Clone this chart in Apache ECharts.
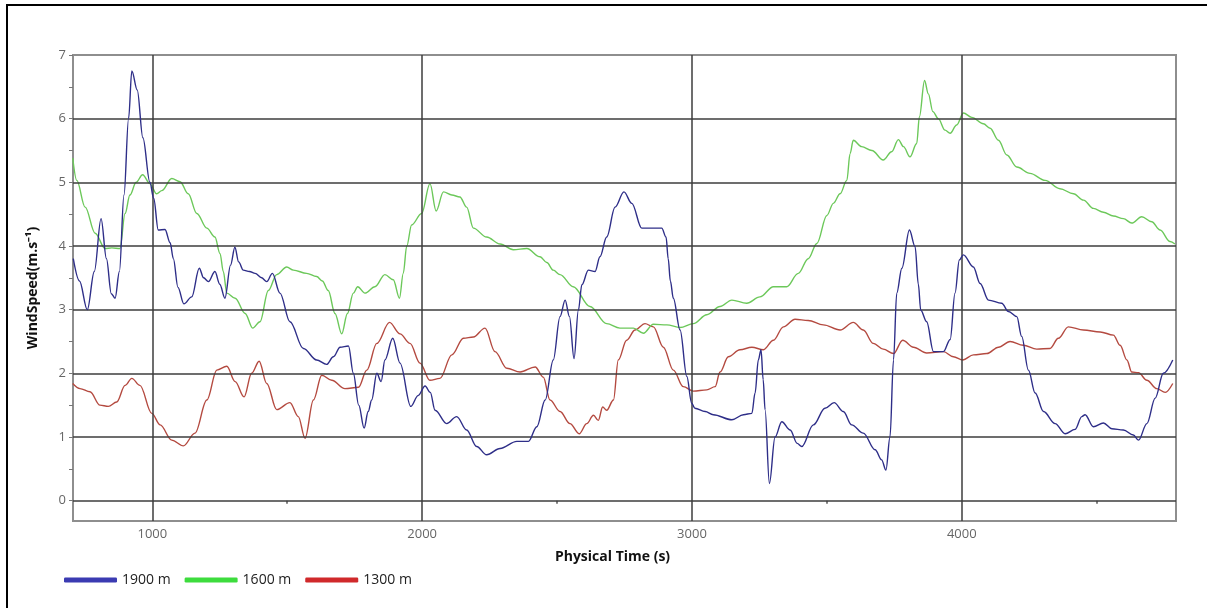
<!DOCTYPE html>
<html>
<head>
<meta charset="utf-8">
<script src="https://cdn.jsdelivr.net/npm/echarts@6/dist/echarts.min.js"></script>
<style>
  html, body { margin: 0; padding: 0; background: #fff; }
  #chart { width: 1207px; height: 608px; }
</style>
</head>
<body>
<div id="chart"></div>
<script>
// Wind speed at three heights over physical time
const seriesNames = ['1900 m', '1600 m', '1300 m'];

const time1900 = [707,730,759,785,810,830,848,862,878,895,912,924,944,965,991,1005,1022,1047,1066,1078,1095,1117,1146,1174,1190,1208,1232,1250,1269,1290,1306,1320,1337,1360,1381,1405,1424,1445,1473,1510,1560,1609,1646,1671,1696,1727,1745,1765,1785,1800,1813,1832,1848,1862,1891,1918,1958,1985,2011,2030,2048,2091,2128,2165,2202,2239,2289,2351,2394,2425,2456,2486,2511,2530,2546,2563,2579,2592,2616,2641,2659,2684,2715,2748,2777,2814,2845,2888,2904,2912,2920,2931,2956,2981,2999,3011,3049,3079,3148,3191,3222,3234,3246,3256,3264,3271,3287,3308,3333,3364,3390,3407,3450,3493,3527,3561,3592,3635,3679,3703,3719,3734,3747,3759,3778,3806,3827,3839,3848,3870,3895,3932,3957,3975,3991,4006,4043,4068,4099,4148,4173,4204,4222,4247,4272,4303,4346,4383,4420,4445,4457,4488,4525,4556,4599,4636,4655,4686,4717,4747,4782];
const speed1900 = [3.80,3.45,3.00,3.60,4.43,3.80,3.25,3.18,3.60,4.80,6.00,6.75,6.45,5.70,5.00,4.75,4.25,4.26,4.05,3.80,3.35,3.09,3.20,3.65,3.50,3.44,3.60,3.40,3.18,3.70,3.98,3.75,3.62,3.60,3.57,3.50,3.44,3.57,3.26,2.81,2.39,2.21,2.14,2.26,2.41,2.43,2.00,1.50,1.14,1.40,1.58,2.00,1.87,2.21,2.55,2.16,1.48,1.65,1.80,1.70,1.42,1.21,1.32,1.11,0.85,0.72,0.82,0.93,0.93,1.16,1.58,2.21,2.89,3.15,2.89,2.23,2.99,3.39,3.62,3.60,3.83,4.14,4.61,4.85,4.67,4.28,4.28,4.28,4.14,3.80,3.45,3.18,2.68,1.95,1.53,1.45,1.40,1.35,1.27,1.35,1.37,1.69,2.21,2.37,1.90,1.43,0.27,1.00,1.24,1.11,0.90,0.85,1.19,1.45,1.54,1.40,1.19,1.06,0.80,0.64,0.48,1.00,2.21,3.26,3.65,4.25,3.99,3.40,2.99,2.81,2.34,2.34,2.53,3.26,3.78,3.86,3.67,3.41,3.15,3.10,2.97,2.89,2.58,2.05,1.69,1.40,1.21,1.05,1.12,1.32,1.35,1.16,1.22,1.13,1.11,1.03,0.95,1.21,1.61,2.00,2.21];

const time1600 = [705,720,751,788,825,850,880,899,917,940,964,991,1016,1035,1072,1103,1133,1165,1202,1232,1251,1263,1276,1307,1344,1372,1399,1430,1461,1498,1523,1572,1609,1630,1652,1677,1702,1723,1745,1761,1788,1825,1862,1893,1916,1930,1943,1961,1998,2029,2052,2079,2110,2140,2165,2190,2239,2289,2338,2388,2437,2462,2486,2511,2560,2622,2684,2733,2783,2820,2857,2907,2956,3005,3055,3104,3148,3203,3252,3302,3351,3394,3431,3463,3500,3524,3549,3574,3586,3598,3629,3667,3709,3740,3765,3784,3808,3833,3843,3862,3876,3893,3913,3938,3957,3981,4006,4037,4080,4105,4136,4167,4204,4253,4309,4364,4414,4451,4488,4525,4562,4599,4630,4667,4704,4735,4772,4790];
const speed1600 = [5.38,5.03,4.61,4.20,3.96,3.97,3.96,4.51,4.80,5.00,5.12,4.98,4.82,4.87,5.06,5.01,4.82,4.51,4.28,4.14,3.88,3.60,3.26,3.18,2.94,2.71,2.81,3.30,3.55,3.67,3.62,3.57,3.52,3.45,3.30,2.94,2.62,2.94,3.26,3.36,3.26,3.36,3.55,3.47,3.18,3.57,4.00,4.33,4.51,4.98,4.55,4.85,4.80,4.77,4.61,4.28,4.14,4.03,3.94,3.96,3.83,3.74,3.62,3.55,3.36,3.05,2.78,2.71,2.71,2.63,2.77,2.76,2.72,2.78,2.92,3.05,3.15,3.10,3.20,3.36,3.36,3.57,3.80,4.04,4.48,4.67,4.82,5.03,5.45,5.66,5.56,5.50,5.35,5.48,5.67,5.56,5.40,5.61,6.03,6.60,6.39,6.11,6.00,5.82,5.77,5.90,6.09,6.02,5.92,5.85,5.66,5.43,5.24,5.14,5.03,4.90,4.82,4.72,4.59,4.53,4.47,4.43,4.36,4.46,4.38,4.25,4.07,4.03];

const time1300 = [705,732,769,806,837,868,899,924,954,998,1029,1072,1115,1158,1202,1239,1276,1307,1340,1368,1396,1424,1461,1510,1541,1566,1597,1628,1665,1714,1764,1795,1832,1879,1918,1955,1992,2029,2066,2110,2153,2190,2233,2270,2314,2363,2419,2449,2474,2511,2548,2582,2610,2635,2653,2669,2684,2709,2727,2758,2789,2826,2857,2894,2931,2968,3005,3055,3086,3104,3135,3178,3222,3265,3302,3339,3382,3431,3487,3549,3598,3635,3672,3709,3747,3781,3821,3870,3932,3969,4004,4043,4093,4136,4179,4228,4278,4327,4358,4395,4451,4513,4562,4587,4612,4630,4655,4686,4723,4754,4782];
const speed1300 = [1.84,1.76,1.71,1.50,1.48,1.55,1.81,1.92,1.81,1.37,1.19,0.95,0.86,1.06,1.58,2.05,2.11,1.87,1.63,2.00,2.19,1.84,1.43,1.54,1.32,0.98,1.58,1.97,1.89,1.76,1.78,2.05,2.47,2.80,2.62,2.47,2.16,1.89,1.92,2.29,2.55,2.57,2.71,2.34,2.08,2.02,2.10,1.94,1.58,1.40,1.21,1.05,1.21,1.34,1.26,1.47,1.42,1.58,2.21,2.52,2.68,2.78,2.73,2.41,2.05,1.79,1.72,1.74,1.79,2.02,2.26,2.37,2.41,2.37,2.52,2.73,2.85,2.83,2.76,2.68,2.80,2.68,2.47,2.38,2.31,2.52,2.41,2.32,2.34,2.26,2.21,2.29,2.31,2.41,2.50,2.44,2.38,2.39,2.55,2.73,2.68,2.65,2.60,2.44,2.21,2.02,2.01,1.89,1.76,1.70,1.84];

// Axis ticks, labels and grid positions
const xLabelValues = [1000, 2000, 3000, 4000];
const xMinorTicks = [1500, 2500, 3500, 4500];
const yLabelValues = [0, 1, 2, 3, 4, 5, 6, 7];
const yTickValues = [0, 0.5, 1, 1.5, 2, 2.5, 3, 3.5, 4, 4.5, 5, 5.5, 6, 6.5, 7];
const xGridValues = [1000, 2000, 3000, 4000];
const yGridValues = [0, 1, 2, 3, 4, 5, 6];

const zip = (t, v) => t.map((x, i) => [x, v[i]]);

const lineColors = ['#2e2e88', '#6cc85a', '#b44a40'];
const legendColors = ['#3b3bb2', '#3ddc3d', '#d0292b'];

const FONT = 'Open Sans';

const chart = echarts.init(document.getElementById('chart'), null, { renderer: 'canvas' });

const gridLines = [];
xGridValues.forEach(v => gridLines.push({ xAxis: v }));
yGridValues.forEach(v => gridLines.push({ yAxis: v }));

const dataSets = [zip(time1900, speed1900), zip(time1600, speed1600), zip(time1300, speed1300)];

const series = [];
// grid lines drawn first, underneath the curves
series.push({
  type: 'line',
  name: '__grid',
  data: [],
  silent: true,
  markLine: {
    silent: true,
    symbol: ['none', 'none'],
    label: { show: false },
    lineStyle: { color: '#3c3c3c', width: 1.5, type: 'solid' },
    emphasis: { disabled: true },
    animation: false,
    data: gridLines
  }
});
[2, 1, 0].forEach(i => {
  series.push({
    type: 'line',
    name: seriesNames[i],
    data: dataSets[i],
    showSymbol: false,
    smooth: 0.35,
    smoothMonotone: 'x',
    lineStyle: { color: lineColors[i], width: 1.4 },
    itemStyle: { color: lineColors[i] },
    z: 3 + (2 - i),
    animation: false
  });
});

chart.setOption({
  backgroundColor: '#ffffff',
  animation: false,
  grid: {
    left: 73, right: 31, top: 55, bottom: 87,
    show: true,
    borderColor: '#8e8e8e',
    borderWidth: 2,
    backgroundColor: 'transparent'
  },
  legend: {
    left: 59,
    top: 568,
    icon: 'roundRect',
    itemWidth: 53,
    itemHeight: 5,
    itemGap: 14,
    textStyle: { fontFamily: FONT, fontSize: 14, color: '#222' },
    data: seriesNames.map((n, i) => ({ name: n, itemStyle: { color: legendColors[i] } }))
  },
  xAxis: {
    type: 'value',
    min: 706,
    max: 4794,
    name: 'Physical Time (s)',
    nameLocation: 'middle',
    nameGap: 29,
    nameTextStyle: { fontFamily: FONT, fontSize: 14, fontWeight: 'bold', color: '#111', padding: [0, 24, 0, 0] },
    axisLine: { show: false },
    axisTick: { show: true, customValues: xMinorTicks, length: 3, lineStyle: { color: '#555', width: 1.5 } },
    axisLabel: { customValues: xLabelValues, formatter: v => String(v), fontFamily: FONT, fontSize: 13, color: '#666', margin: 7 },
    splitLine: { show: false }
  },
  yAxis: {
    type: 'value',
    min: -0.32,
    max: 7,
    name: 'WindSpeed(m.s\u207B\u00B9)',
    nameLocation: 'middle',
    nameRotate: 90,
    nameGap: 33,
    nameTextStyle: { fontFamily: FONT, fontSize: 14, fontWeight: 'bold', color: '#111', padding: [0, 0, 0, 0] },
    axisLine: { show: false },
    axisTick: { show: true, customValues: yTickValues, length: 4, lineStyle: { color: '#777', width: 1 } },
    axisLabel: { customValues: yLabelValues, fontFamily: FONT, fontSize: 13, color: '#666', margin: 7 },
    splitLine: { show: false }
  },
  graphic: [
    { type: 'line', shape: { x1: 7, y1: 5, x2: 1207, y2: 5 }, style: { stroke: '#000', lineWidth: 2 }, silent: true },
    { type: 'line', shape: { x1: 7, y1: 4, x2: 7, y2: 608 }, style: { stroke: '#000', lineWidth: 2 }, silent: true }
  ],
  series: series
});
</script>
</body>
</html>
